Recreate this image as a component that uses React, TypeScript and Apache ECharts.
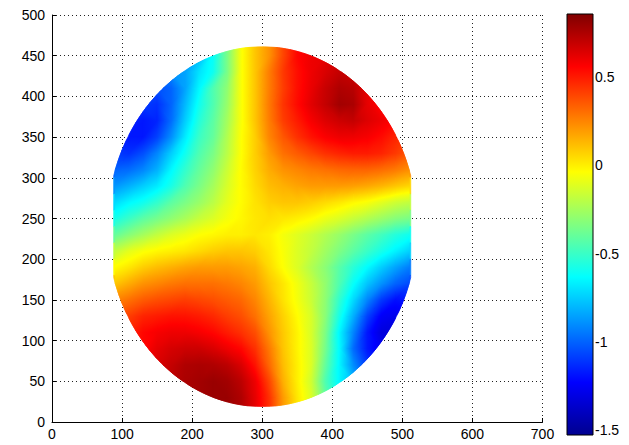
import React, { useEffect, useRef } from 'react';
import * as echarts from 'echarts';

// Cell centres of the measurement grid (20-unit cells)
const xCenters = [90, 110, 130, 150, 170, 190, 210, 230, 250, 270, 290, 310, 330, 350, 370, 390, 410, 430, 450, 470, 490, 510];
const yCenters = [450, 430, 410, 390, 370, 350, 330, 310, 290, 270, 250, 230, 210, 190, 170, 150, 130, 110, 90, 70, 50, 30];
const CELL = 20;

const N = null;
// Measured surface values, one row per yCenters entry (top to bottom)
const r450 = [N, N, N, N, N, N, -0.8, -0.62, -0.35, -0.05, 0.1, 0.22, 0.4, 0.55, 0.6, 0.62, N, N, N, N, N, N];
const r430 = [N, N, N, N, -0.9, -0.85, -0.7, -0.6, -0.35, -0.05, 0.1, 0.27, 0.43, 0.53, 0.6, 0.65, 0.7, 0.68, N, N, N, N];
const r410 = [N, N, N, -1.05, -1.0, -0.85, -0.65, -0.45, -0.3, -0.05, 0.1, 0.27, 0.42, 0.53, 0.61, 0.69, 0.75, 0.73, 0.62, N, N, N];
const r390 = [N, N, -1.1, -1.12, -1.0, -0.8, -0.6, -0.45, -0.28, -0.05, 0.1, 0.28, 0.44, 0.54, 0.63, 0.7, 0.78, 0.76, 0.62, 0.55, N, N];
const r370 = [N, -1.15, -1.18, -1.15, -0.98, -0.75, -0.55, -0.42, -0.25, -0.05, 0.1, 0.27, 0.42, 0.5, 0.58, 0.64, 0.68, 0.7, 0.64, 0.6, 0.55, N];
const r350 = [N, -1.18, -1.18, -1.08, -0.9, -0.68, -0.5, -0.4, -0.22, -0.04, 0.08, 0.25, 0.36, 0.45, 0.52, 0.57, 0.6, 0.6, 0.58, 0.54, 0.48, N];
const r330 = [-1.1, -1.12, -1.05, -0.92, -0.75, -0.6, -0.45, -0.35, -0.2, -0.04, 0.08, 0.2, 0.3, 0.35, 0.4, 0.45, 0.48, 0.5, 0.5, 0.48, 0.43, 0.36];
const r310 = [-1.0, -0.98, -0.92, -0.82, -0.65, -0.52, -0.4, -0.3, -0.16, -0.03, 0.07, 0.16, 0.22, 0.25, 0.28, 0.3, 0.32, 0.33, 0.33, 0.31, 0.28, 0.23];
const r290 = [-0.88, -0.82, -0.75, -0.68, -0.58, -0.45, -0.35, -0.25, -0.13, -0.03, 0.05, 0.12, 0.15, 0.18, 0.2, 0.2, 0.2, 0.19, 0.17, 0.14, 0.1, 0.06];
const r270 = [-0.72, -0.65, -0.6, -0.52, -0.42, -0.35, -0.28, -0.2, -0.1, -0.03, 0.03, 0.08, 0.1, 0.1, 0.08, 0.05, 0.02, -0.02, -0.05, -0.1, -0.15, -0.18];
const r250 = [-0.58, -0.5, -0.42, -0.36, -0.3, -0.24, -0.17, -0.12, -0.06, -0.02, 0.02, 0.04, 0.02, 0.0, -0.03, -0.08, -0.12, -0.17, -0.22, -0.27, -0.32, -0.35];
const r230 = [-0.4, -0.32, -0.25, -0.18, -0.12, -0.08, -0.04, -0.02, 0.0, 0.0, 0.02, 0.0, -0.06, -0.11, -0.16, -0.22, -0.28, -0.35, -0.42, -0.48, -0.55, -0.6];
const r210 = [-0.18, -0.1, -0.05, -0.02, 0.0, 0.02, 0.05, 0.08, 0.1, 0.1, 0.08, 0.02, -0.05, -0.12, -0.18, -0.26, -0.34, -0.42, -0.5, -0.58, -0.66, -0.74];
const r190 = [-0.03, 0.02, 0.08, 0.12, 0.15, 0.18, 0.2, 0.2, 0.2, 0.18, 0.15, 0.05, -0.04, -0.12, -0.22, -0.31, -0.43, -0.54, -0.64, -0.75, -0.85, -0.94];
const r170 = [0.1, 0.16, 0.22, 0.25, 0.28, 0.3, 0.3, 0.3, 0.28, 0.25, 0.2, 0.1, 0.02, -0.07, -0.17, -0.29, -0.45, -0.62, -0.77, -0.89, -1.0, -1.06];
const r150 = [0.25, 0.3, 0.35, 0.38, 0.4, 0.42, 0.4, 0.38, 0.35, 0.32, 0.25, 0.14, 0.03, -0.06, -0.16, -0.3, -0.52, -0.72, -0.92, -1.1, -1.2, -1.18];
const r130 = [N, 0.42, 0.48, 0.5, 0.52, 0.52, 0.5, 0.47, 0.42, 0.38, 0.3, 0.18, 0.07, -0.03, -0.13, -0.31, -0.58, -0.82, -1.08, -1.25, -1.28, N];
const r110 = [N, 0.48, 0.55, 0.58, 0.6, 0.6, 0.58, 0.55, 0.5, 0.45, 0.38, 0.22, 0.09, -0.01, -0.13, -0.34, -0.65, -0.92, -1.18, -1.32, -1.33, N];
const r90 = [N, N, 0.55, 0.62, 0.66, 0.68, 0.68, 0.65, 0.6, 0.55, 0.45, 0.28, 0.1, -0.01, -0.12, -0.36, -0.64, -0.98, -1.18, -1.28, N, N];
const r70 = [N, N, N, 0.65, 0.7, 0.75, 0.76, 0.75, 0.72, 0.65, 0.52, 0.32, 0.12, 0.0, -0.12, -0.4, -0.65, -0.9, -1.1, N, N, N];
const r50 = [N, N, N, N, 0.72, 0.76, 0.78, 0.8, 0.78, 0.72, 0.6, 0.4, 0.15, 0.0, -0.15, -0.45, -0.65, -0.8, N, N, N, N];
const r30 = [N, N, N, N, N, N, 0.78, 0.8, 0.8, 0.75, 0.62, 0.45, 0.2, 0.02, -0.12, -0.4, N, N, N, N, N, N];

const surfaceRows = [r450, r430, r410, r390, r370, r350, r330, r310, r290, r270, r250, r230, r210, r190, r170, r150, r130, r110, r90, r70, r50, r30];

// Colour scale
const colorMin = -1.53;
const colorMax = 0.86;
const colorbarTicks = [-1.5, -1, -0.5, 0, 0.5];
const jet = ['#00008f', '#0000ff', '#0080ff', '#00ffff', '#80ff80', '#ffff00', '#ff8000', '#ff0000', '#800000'];

// Wafer outline: a circle with two vertical flats
const waferCx = 300;
const waferCy = 240;
const waferR = 221;
const waferXMin = 88;
const waferXMax = 512;

function waferOutline(): number[][] {
  const pts: number[][] = [];
  const n = 240;
  for (let i = 0; i < n; i++) {
    const t = (i / n) * Math.PI * 2;
    let x = waferCx + waferR * Math.cos(t);
    const y = waferCy + waferR * Math.sin(t);
    x = Math.min(waferXMax, Math.max(waferXMin, x));
    pts.push([x, y]);
  }
  return pts;
}

// Sutherland–Hodgman clipping against a convex, counter-clockwise polygon
function clipPolygon(subject: number[][], clip: number[][]): number[][] {
  let out = subject;
  for (let i = 0; i < clip.length; i++) {
    if (!out.length) break;
    const a = clip[i];
    const b = clip[(i + 1) % clip.length];
    const side = (p: number[]) => (b[0] - a[0]) * (p[1] - a[1]) - (b[1] - a[1]) * (p[0] - a[0]);
    const input = out;
    out = [];
    for (let j = 0; j < input.length; j++) {
      const p = input[j];
      const q = input[(j + 1) % input.length];
      const sp = side(p);
      const sq = side(q);
      if (sp >= 0) out.push(p);
      if ((sp >= 0) !== (sq >= 0)) {
        const t = sp / (sp - sq);
        out.push([p[0] + t * (q[0] - p[0]), p[1] + t * (q[1] - p[1])]);
      }
    }
  }
  return out;
}

const jetStops = jet.map((c, i) => ({ offset: i / (jet.length - 1), color: c }));

function jetColor(v: number): string {
  const f = Math.min(1, Math.max(0, (v - colorMin) / (colorMax - colorMin))) * (jet.length - 1);
  const i = Math.min(jet.length - 2, Math.floor(f));
  const t = f - i;
  const a = jet[i];
  const b = jet[i + 1];
  const ch = (s: string, k: number) => parseInt(s.slice(1 + 2 * k, 3 + 2 * k), 16);
  const mix = [0, 1, 2].map((k) => Math.round(ch(a, k) + (ch(b, k) - ch(a, k)) * t));
  return `rgb(${mix[0]},${mix[1]},${mix[2]})`;
}

// Fill for a triangle whose value varies linearly between its corners:
// a global linear gradient laid along the value gradient, carrying the colour scale.
function triangleFill(p: number[][], v: number[]): any {
  const [x0, y0] = p[0];
  const [x1, y1] = p[1];
  const [x2, y2] = p[2];
  const det = (x1 - x0) * (y2 - y0) - (x2 - x0) * (y1 - y0);
  if (Math.abs(det) < 1e-9) return jetColor((v[0] + v[1] + v[2]) / 3);
  const d1 = v[1] - v[0];
  const d2 = v[2] - v[0];
  const gx = (d1 * (y2 - y0) - d2 * (y1 - y0)) / det;
  const gy = (d2 * (x1 - x0) - d1 * (x2 - x0)) / det;
  const g2 = gx * gx + gy * gy;
  if (g2 < 1e-12) return jetColor(v[0]);
  const sA = (colorMin - v[0]) / g2;
  const sB = (colorMax - v[0]) / g2;
  return new echarts.graphic.LinearGradient(
    x0 + sA * gx, y0 + sA * gy, x0 + sB * gx, y0 + sB * gy, jetStops, true
  );
}

const FONT = "'Liberation Sans', Arial, sans-serif";

export default function App() {
  const ref = useRef<HTMLDivElement>(null);

  useEffect(() => {
    if (!ref.current) return;
    const chart = echarts.init(ref.current, null, { renderer: 'svg' });
    const outline = waferOutline();

    // flat cells (base layer, reaches the wafer rim)
    const cells: number[][] = [];
    surfaceRows.forEach((row, ri) => {
      row.forEach((v, ci) => {
        if (v !== null) cells.push([xCenters[ci], yCenters[ri], v as number]);
      });
    });

    // quads between neighbouring cell centres, shaded smoothly;
    // corners are bottom-left, bottom-right, top-right, top-left (NaN = no value)
    const quads: number[][] = [];
    const pushQuad = (xa: number, ya: number, xb: number, yb: number, vals: (number | null)[]) => {
      const present = vals.filter((v) => v !== null).length;
      if (present < 3) return;
      quads.push([xa, ya, xb, yb, ...vals.map((v) => (v === null ? NaN : v))]);
    };
    for (let ri = 0; ri < surfaceRows.length - 1; ri++) {
      const top = surfaceRows[ri];
      const bot = surfaceRows[ri + 1];
      for (let ci = 0; ci < xCenters.length - 1; ci++) {
        pushQuad(xCenters[ci], yCenters[ri + 1], xCenters[ci + 1], yCenters[ri],
          [bot[ci], bot[ci + 1], top[ci + 1], top[ci]]);
      }
    }
    // rim strips above the first row and below the last row carry the edge values outward
    const first = surfaceRows[0];
    const last = surfaceRows[surfaceRows.length - 1];
    for (let ci = 0; ci < xCenters.length - 1; ci++) {
      pushQuad(xCenters[ci], yCenters[0], xCenters[ci + 1], yCenters[0] + CELL,
        [first[ci], first[ci + 1], first[ci + 1], first[ci]]);
      const yl = yCenters[yCenters.length - 1];
      pushQuad(xCenters[ci], yl - CELL, xCenters[ci + 1], yl,
        [last[ci], last[ci + 1], last[ci + 1], last[ci]]);
    }

    const dotted = { color: '#222', width: 1, type: [1, 3] as any };

    chart.setOption({
      animation: false,
      backgroundColor: '#fff',
      grid: [
        { left: 52, right: 86.5, top: 15, bottom: 23 },
        { left: 567, width: 26, top: 14, height: 421 },
      ],
      xAxis: [
        {
          gridIndex: 0,
          type: 'value',
          min: 0,
          max: 700,
          interval: 100,
          axisLine: { show: true, onZero: false, lineStyle: { color: '#000', width: 1 } },
          axisTick: { show: true, inside: true, length: 4, lineStyle: { color: '#000' } },
          axisLabel: { color: '#000', fontSize: 14, fontFamily: FONT, margin: 5 },
          splitLine: { show: true, lineStyle: dotted },
        },
        { gridIndex: 1, type: 'value', min: 0, max: 1, show: false },
      ],
      yAxis: [
        {
          gridIndex: 0,
          type: 'value',
          min: 0,
          max: 500,
          interval: 50,
          axisLine: { show: true, onZero: false, lineStyle: { color: '#000', width: 1 } },
          axisTick: { show: true, inside: true, length: 4, lineStyle: { color: '#000' } },
          axisLabel: { color: '#000', fontSize: 14, fontFamily: FONT, margin: 7 },
          splitLine: { show: true, lineStyle: dotted },
        },
        {
          gridIndex: 1,
          type: 'value',
          position: 'right',
          min: colorMin,
          max: colorMax,
          axisLine: { show: false },
          axisTick: { show: true, inside: false, length: 3, customValues: colorbarTicks, lineStyle: { color: '#000' } },
          axisLabel: { color: '#000', fontSize: 14, fontFamily: FONT, margin: 2, customValues: colorbarTicks },
          splitLine: { show: false },
        },
      ],
      visualMap: {
        show: false,
        type: 'continuous',
        seriesIndex: 0,
        dimension: 2,
        min: colorMin,
        max: colorMax,
        inRange: { color: jet },
      },
      series: [
        {
          type: 'custom',
          xAxisIndex: 0,
          yAxisIndex: 0,
          encode: { x: 0, y: 1 },
          data: cells,
          renderItem: (params: any, api: any) => {
            const x = api.value(0);
            const y = api.value(1);
            const h = CELL / 2;
            const rect = [
              [x - h, y - h],
              [x + h, y - h],
              [x + h, y + h],
              [x - h, y + h],
            ];
            const poly = clipPolygon(rect, outline);
            if (poly.length < 3) return null;
            const color = api.visual('color');
            return {
              type: 'polygon',
              shape: { points: poly.map((p) => api.coord(p)) },
              style: { fill: color, stroke: color, lineWidth: 0.7 },
            };
          },
        },
        {
          type: 'custom',
          xAxisIndex: 0,
          yAxisIndex: 0,
          encode: { x: [0, 2], y: [1, 3] },
          data: quads,
          z: 3,
          renderItem: (params: any, api: any) => {
            const xa = api.value(0);
            const ya = api.value(1);
            const xb = api.value(2);
            const yb = api.value(3);
            const corners = [[xa, ya], [xb, ya], [xb, yb], [xa, yb]];
            const vals = [api.value(4), api.value(5), api.value(6), api.value(7)].map(Number);
            const missing = vals.findIndex((v) => !isFinite(v));
            let tris: number[][];
            if (missing >= 0) {
              tris = [[0, 1, 2, 3].filter((k) => k !== missing)];
            } else if (Math.abs(vals[0] - vals[2]) <= Math.abs(vals[1] - vals[3])) {
              tris = [[0, 1, 2], [0, 2, 3]];
            } else {
              tris = [[0, 1, 3], [1, 2, 3]];
            }
            const children: any[] = [];
            tris.forEach((t) => {
              const clipped = clipPolygon(t.map((k) => corners[k]), outline);
              if (clipped.length < 3) return;
              const px = t.map((k) => api.coord(corners[k]));
              const fill = triangleFill(px, t.map((k) => vals[k]));
              children.push({
                type: 'polygon',
                shape: { points: clipped.map((p) => api.coord(p)) },
                style: { fill, stroke: fill, lineWidth: 0.6 },
              });
            });
            return { type: 'group', children };
          },
        },
        {
          type: 'custom',
          xAxisIndex: 1,
          yAxisIndex: 1,
          data: [[0, colorMin, 1, colorMax]],
          renderItem: (params: any, api: any) => {
            const p0 = api.coord([api.value(0), api.value(1)]);
            const p1 = api.coord([api.value(2), api.value(3)]);
            return {
              type: 'rect',
              shape: { x: p0[0], y: p1[1], width: p1[0] - p0[0], height: p0[1] - p1[1] },
              style: {
                fill: new echarts.graphic.LinearGradient(0, 1, 0, 0, jetStops),
                stroke: '#000',
                lineWidth: 1,
              },
            };
          },
        },
      ],
    });

    return () => chart.dispose();
  }, []);

  return (
    <div
      ref={ref}
      style={{ position: 'fixed', left: 0, top: 0, width: 629, height: 445 }}
    />
  );
}
